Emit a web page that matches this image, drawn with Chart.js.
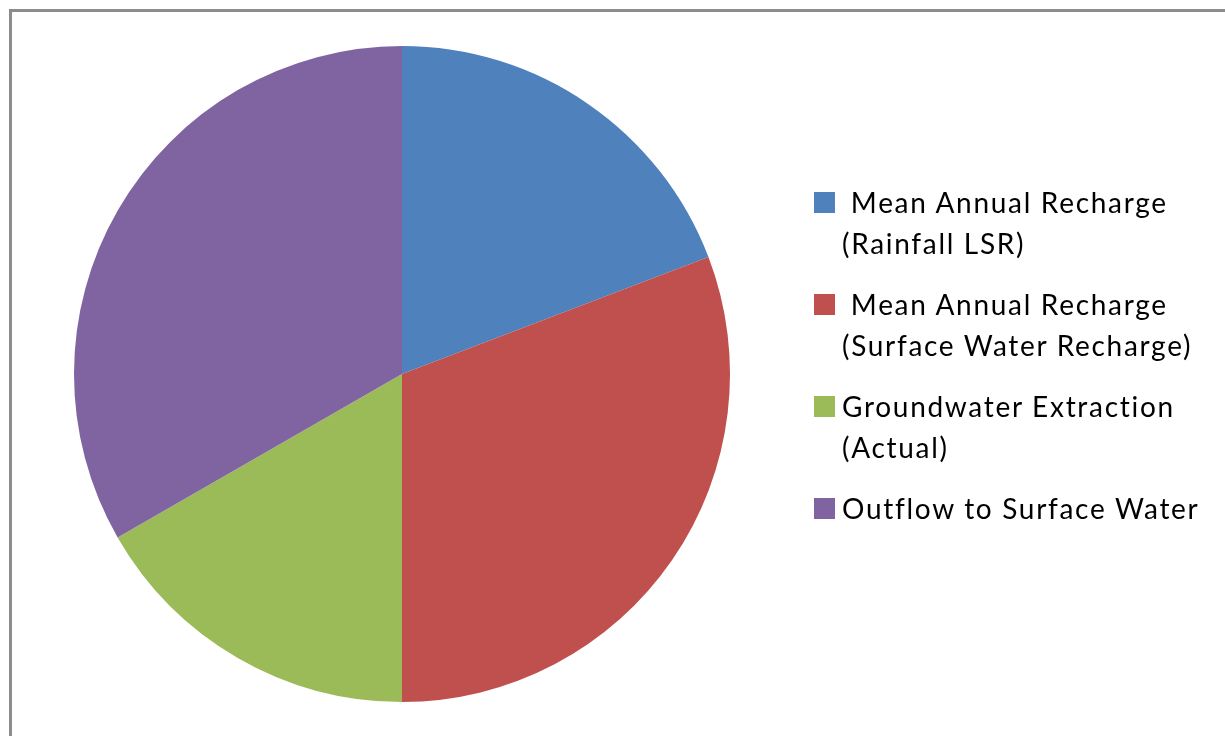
<!DOCTYPE html>
<html>
<head>
<meta charset="utf-8">
<script src="https://cdn.jsdelivr.net/npm/chart.js@4"></script>
<style>
  html, body { margin: 0; padding: 0; background: #fff; overflow: hidden; }
  #wrap { position: relative; width: 1225px; height: 736px; }
  #frame {
    position: absolute; left: 9px; top: 9px; width: 1300px; height: 800px;
    border-left: 3px solid #8c8c8c; border-top: 3px solid #8c8c8c;
  }
  #chart { position: absolute; left: 0; top: 0; }
  #legend {
    position: absolute; left: 814px; top: 182px;
    font-family: Lato, "Open Sans", sans-serif; font-size: 28px; color: #000;
    letter-spacing: 1.7px;
  }
  .item { position: relative; padding-left: 28px; margin-bottom: 20px; line-height: 41px; white-space: pre; }
  .box { position: absolute; left: 0; top: 10px; width: 21px; height: 21px; }
</style>
</head>
<body>
<div id="wrap">
  <div id="frame"></div>
  <canvas id="chart" width="1225" height="736"></canvas>
  <div id="legend"></div>
</div>
<script>
const labels = [
  [' Mean Annual Recharge', '(Rainfall LSR)'],
  [' Mean Annual Recharge', '(Surface Water Recharge)'],
  ['Groundwater Extraction', '(Actual)'],
  ['Outflow to Surface Water'],
];
const values = [19.2, 30.8, 16.7, 33.3];
const colors = ['#4F81BD', '#C0504D', '#9BBB59', '#8064A2'];

const ctx = document.getElementById('chart');
const chart = new Chart(ctx, {
  type: 'pie',
  data: {
    labels: labels,
    datasets: [{
      data: values,
      backgroundColor: colors,
      borderWidth: 0,
    }],
  },
  options: {
    responsive: false,
    animation: false,
    layout: { padding: { left: 74, right: 495, top: 46, bottom: 34 } },
    plugins: {
      legend: { display: false },
      tooltip: { enabled: false },
    },
  },
});

// legend built from the chart's own labels and colours
const legendEl = document.getElementById('legend');
chart.data.labels.forEach((lines, i) => {
  const item = document.createElement('div');
  item.className = 'item';
  const box = document.createElement('span');
  box.className = 'box';
  box.style.background = chart.data.datasets[0].backgroundColor[i];
  item.appendChild(box);
  item.appendChild(document.createTextNode(lines.join('\n')));
  legendEl.appendChild(item);
});
</script>
</body>
</html>
